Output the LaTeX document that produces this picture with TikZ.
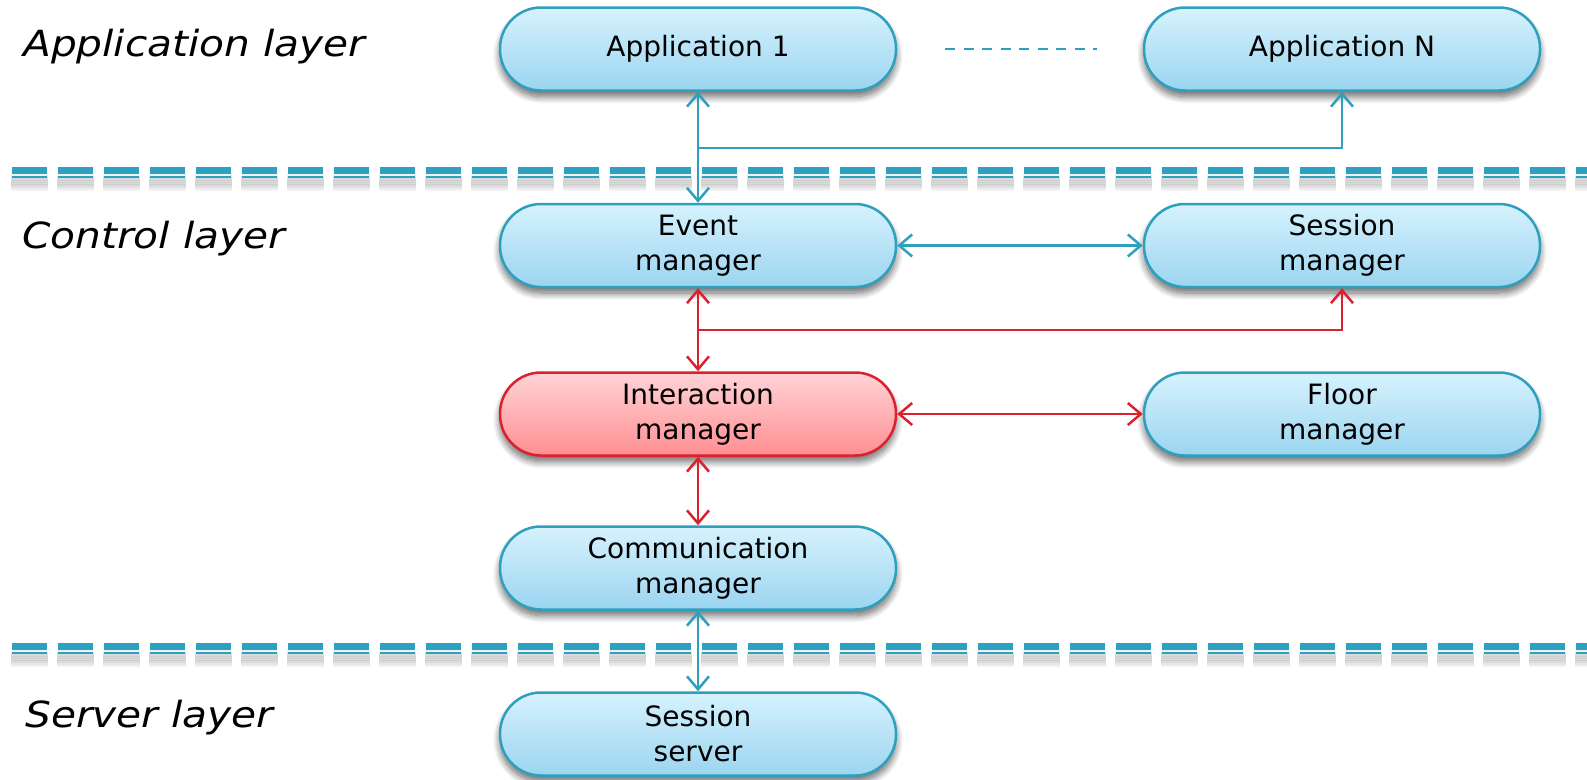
\documentclass[tikz,border=0pt]{standalone}
\usepackage{fontspec}
\setmainfont{DejaVu Sans}
\newfontfamily\layerfont{DejaVu Sans}[FakeStretch=1.13]
\usetikzlibrary{arrows.meta,shadows.blur}

\definecolor{edgeblue}{RGB}{46,160,190}
\definecolor{filltop}{RGB}{214,242,253}
\definecolor{fillbot}{RGB}{155,213,240}
\definecolor{edgered}{RGB}{218,34,46}
\definecolor{redtop}{RGB}{255,212,214}
\definecolor{redbot}{RGB}{255,142,146}
\definecolor{sepblue}{RGB}{44,162,192}

\tikzset{
  module/.style={draw=edgeblue, line width=2.5pt, rectangle, rounded corners=41pt,
    minimum width=396pt, minimum height=83pt, top color=filltop, bottom color=fillbot,
    align=center, font=\fontsize{28}{35}\selectfont, inner sep=0pt,
    blur shadow={shadow xshift=0pt, shadow yshift=-6pt, shadow blur radius=7pt,
      shadow blur steps=12, shadow opacity=60}},
  hotmodule/.style={module, draw=edgered, top color=redtop, bottom color=redbot},
  layerlabel/.style={anchor=base west, inner sep=0pt,
    font=\layerfont\itshape\fontsize{36}{40}\selectfont},
  link/.style={draw=edgeblue, line width=2.5pt},
  redlink/.style={draw=edgered, line width=2.5pt},
  both/.style={{Straight Barb[length=13pt,width=22pt]}-{Straight Barb[length=13pt,width=22pt]}},
  one/.style={-{Straight Barb[length=13pt,width=22pt]}},
  septhick/.style={sepblue, line width=7pt, dash pattern=on 35pt off 11pt},
  septhin/.style={sepblue, line width=2.6pt, dash pattern=on 35pt off 11pt},
  sepshade/.style={black, line width=7pt, opacity=0.05, dash pattern=on 37pt off 9pt},
}

\begin{document}
\begin{tikzpicture}[x=1pt, y=-1pt]
  \useasboundingbox (0,0) rectangle (1587,779);

  % layer separators with a soft shadow beneath
  \foreach \yy in {170.7, 646.5} {
    \foreach \dd in {7,9,11,13,15,17} {
      \draw[sepshade] (11,\yy+\dd) -- (1600,\yy+\dd);
    }
    \draw[septhick] (12,\yy) -- (1600,\yy);
    \draw[septhin] (12,\yy+6.3) -- (1600,\yy+6.3);
  }

  % layer names
  \node[layerlabel] (lapp) at (23,56) {Application layer};
  \node[layerlabel] (lctl) at (22,248) {Control layer};
  \node[layerlabel] (lsrv) at (25,727) {Server layer};

  % modules
  \node[module] (app1) at (698,49) {Application 1};
  \node[module] (appN) at (1342,49) {Application N};
  \node[module] (event) at (698,245.5) {Event\\manager};
  \node[module] (sess) at (1342,245.5) {Session\\manager};
  \node[hotmodule] (inter) at (698,414) {Interaction\\manager};
  \node[module] (floor) at (1342,414) {Floor\\manager};
  \node[module] (comm) at (698,568) {Communication\\manager};
  \node[module] (server) at (698,734) {Session\\server};

  % "more applications" ellipsis
  \coordinate (dotsA) at (945,49);
  \coordinate (dotsB) at (1097,49);
  \draw[edgeblue, line width=2pt, dash pattern=on 10pt off 8.5pt] (dotsA) -- (dotsB);

  % connectors
  \coordinate (jA) at (698,148);
  \coordinate (jB) at (698,330);
  \draw[link, both] (app1.south) -- (event.north);
  \draw[link, one] (jA) -| (appN.south);
  \draw[link, both] (event.east) -- (sess.west);
  \draw[redlink, both] (event.south) -- (inter.north);
  \draw[redlink, one] (jB) -| (sess.south);
  \draw[redlink, both] (inter.east) -- (floor.west);
  \draw[redlink, both] (inter.south) -- (comm.north);
  \draw[link, both] (comm.south) -- (server.north);
\end{tikzpicture}
\end{document}
